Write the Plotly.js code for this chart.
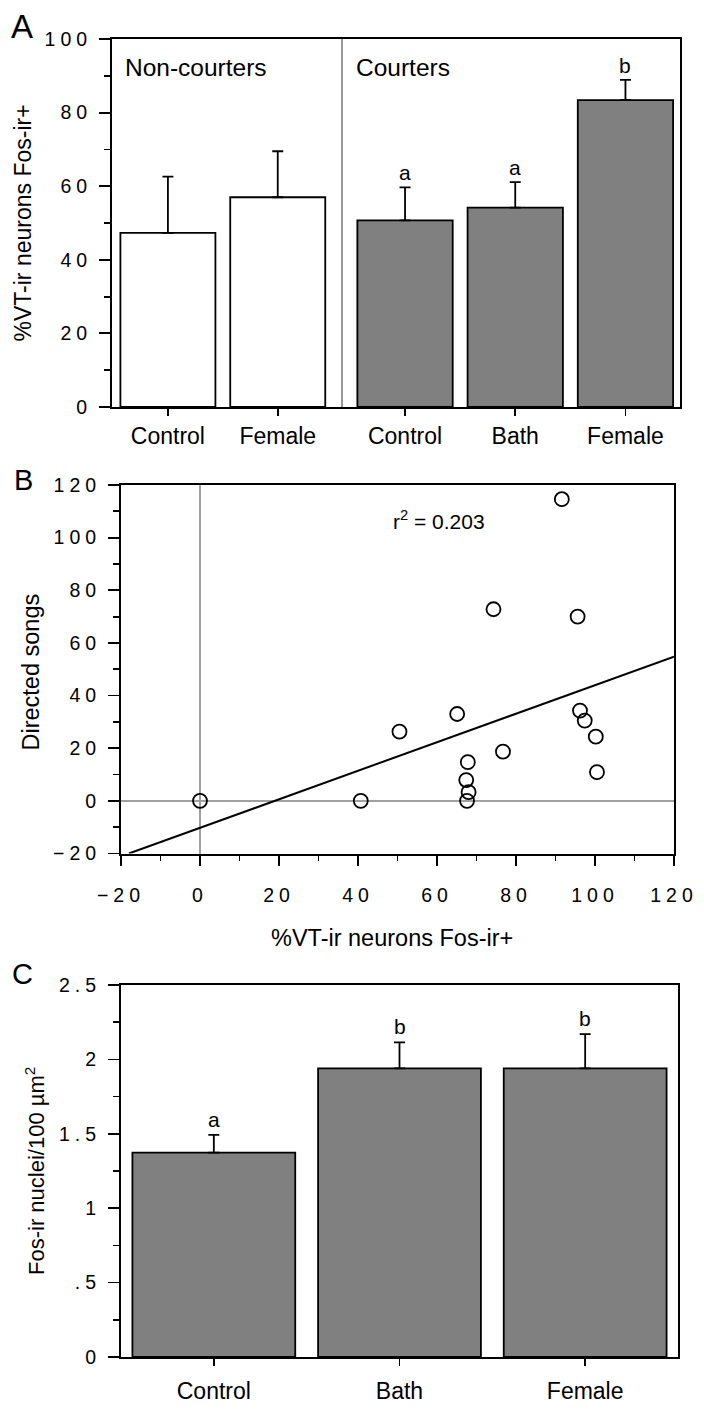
<!DOCTYPE html>
<html><head><meta charset="utf-8">
<script src="https://cdn.plot.ly/plotly-3.0.1.min.js"></script>
<style>
html,body{margin:0;padding:0;background:#fff;}
#chart{width:704px;height:1410px;}
.ytick text, .x3tick text, .y3tick text, .y4tick text {letter-spacing:5px;}
</style></head><body><div id="chart"></div>
<script>
// ---------- Panel A data ----------
const catsNonCourters = ['Control', 'Female'];
const valsNonCourters = [47.3, 57.0];
const errNonCourters  = [15.3, 12.5];
const catsCourters = ['Control', 'Bath', 'Female'];
const valsCourters = [50.7, 54.2, 83.4];
const errCourters  = [9.0, 6.9, 5.5];
const lettersCourters = ['a', 'a', 'b'];

// ---------- Panel B data ----------
const vtFosPct      = [0,  40.7, 50.5, 65.1, 67.6, 67.4, 68.0, 67.8, 74.3, 76.7, 91.6, 95.6, 96.2, 97.4, 100.2, 100.5];
const directedSongs = [0,  0,    26.3, 33.0, 0,    7.9,  3.3,  14.7, 72.8, 18.7, 114.6, 70.0, 34.3, 30.5, 24.4, 10.9];
const fitLineX = [-18, 120];
const fitLineY = [-20, 54.8];
const rSquaredText = '0.203';

// ---------- Panel C data ----------
const catsC = ['Control', 'Bath', 'Female'];
const valsC = [1.373, 1.94, 1.94];
const errC  = [0.12, 0.175, 0.23];
const lettersC = ['a', 'b', 'b'];
const yTickValsC = [0, 0.5, 1, 1.5, 2, 2.5];
const yTickTextC = ['0', '.5', '1', '1.5', '2', '2.5'];

// ---------- helpers ----------
const W = 704, H = 1410;
const px = v => v / W;
const py = v => 1 - v / H;
const FONT = 'Liberation Sans, Arial, Helvetica, sans-serif';
const zeros = n => new Array(n).fill(0);

const barStyle = (fill) => ({color: fill, line: {color: '#000', width: 1.8}});
const errStyle = (arr) => ({type: 'data', symmetric: false, array: arr, arrayminus: zeros(arr.length),
                            color: '#000', thickness: 1.8, width: 5.5});

const traces = [
  {type: 'bar', x: catsNonCourters, y: valsNonCourters, xaxis: 'x', yaxis: 'y', width: 0.865,
   marker: barStyle('#ffffff'), error_y: errStyle(errNonCourters)},
  {type: 'bar', x: catsCourters, y: valsCourters, xaxis: 'x2', yaxis: 'y2', width: 0.865,
   marker: barStyle('#808080'), error_y: errStyle(errCourters)},
  {type: 'scatter', mode: 'lines', x: fitLineX, y: fitLineY, xaxis: 'x3', yaxis: 'y3',
   line: {color: '#000', width: 2}},
  {type: 'scatter', mode: 'markers', x: vtFosPct, y: directedSongs, xaxis: 'x3', yaxis: 'y3',
   marker: {symbol: 'circle-open', size: 14, color: '#000', line: {width: 1.8, color: '#000'}}},
  {type: 'bar', x: catsC, y: valsC, xaxis: 'x4', yaxis: 'y4', width: 0.877,
   marker: barStyle('#808080'), error_y: errStyle(errC)}
];

const tickNum = {family: FONT, size: 19.5, color: '#000'};
const tickCat = {family: FONT, size: 23, color: '#000'};
const minorT = {ticklen: 6, tickcolor: '#000', tickwidth: 1.8, ticks: 'outside'};
const baseAx = {showgrid: false, zeroline: false, showline: true, linecolor: '#000', linewidth: 2,
                ticks: 'outside', tickcolor: '#000', tickwidth: 1.8, fixedrange: true};

const layout = {
  width: W, height: H, margin: {l: 0, r: 0, t: 0, b: 0},
  paper_bgcolor: '#fff', plot_bgcolor: '#fff', showlegend: false,
  font: {family: FONT, color: '#000'},
  // Panel A
  xaxis: Object.assign({}, baseAx, {domain: [px(112), px(342)], anchor: 'y', type: 'category',
          range: [-0.509, 1.585], mirror: true, ticklen: 7, tickfont: tickCat, ticklabelstandoff: 0}),
  yaxis: Object.assign({}, baseAx, {domain: [py(407), py(39)], anchor: 'x', range: [0, 100],
          dtick: 20, ticklen: 11, tickfont: tickNum, ticklabelstandoff: 3,
          minor: Object.assign({dtick: 10}, minorT)}),
  xaxis2: Object.assign({}, baseAx, {domain: [px(342), px(680)], anchor: 'y2', type: 'category',
          range: [-0.572, 2.495], mirror: true, ticklen: 7, tickfont: tickCat, ticklabelstandoff: 0}),
  yaxis2: Object.assign({}, baseAx, {domain: [py(407), py(39)], anchor: 'x2', range: [0, 100],
          side: 'right', ticks: '', showticklabels: false}),
  // Panel B
  xaxis3: Object.assign({}, baseAx, {domain: [px(121), px(674)], anchor: 'y3', range: [-20, 120],
          dtick: 20, mirror: true, ticklen: 10, tickfont: tickNum, ticklabelstandoff: 13,
          zeroline: true, zerolinecolor: '#a0a0a0', zerolinewidth: 1.5,
          minor: Object.assign({dtick: 10}, minorT, {ticklen: 5})}),
  yaxis3: Object.assign({}, baseAx, {domain: [py(853.5), py(485)], anchor: 'x3', range: [-20, 120],
          dtick: 20, mirror: true, ticklen: 11, tickfont: tickNum, ticklabelstandoff: 3,
          zeroline: true, zerolinecolor: '#a0a0a0', zerolinewidth: 1.5,
          minor: Object.assign({dtick: 10}, minorT)}),
  // Panel C
  xaxis4: Object.assign({}, baseAx, {domain: [px(121), px(678)], anchor: 'y4', type: 'category',
          range: [-0.5, 2.5], mirror: true, ticklen: 7, tickfont: tickCat, ticklabelstandoff: 5}),
  yaxis4: Object.assign({}, baseAx, {domain: [py(1357), py(985)], anchor: 'x4', range: [0, 2.5],
          tickmode: 'array', tickvals: yTickValsC, ticktext: yTickTextC, mirror: true,
          ticklen: 11, tickfont: tickNum, ticklabelstandoff: 3,
          minor: Object.assign({dtick: 0.25, tick0: 0}, minorT)}),
  shapes: [
    {type: 'line', xref: 'paper', yref: 'paper', x0: px(342), x1: px(342), y0: py(407), y1: py(39),
     line: {color: '#999', width: 2}}
  ],
  annotations: []
};

const ann = (text, x, y, size, extra) => Object.assign({text: text, x: x, y: y, xref: 'paper', yref: 'paper',
  showarrow: false, font: {family: FONT, size: size, color: '#000'}, xanchor: 'center', yanchor: 'middle'}, extra || {});

// panel letters
layout.annotations.push(ann('A', px(21.5), py(26), 33));
layout.annotations.push(ann('B', px(23), py(480), 29));
layout.annotations.push(ann('C', px(22.5), py(974), 29));
// group labels
layout.annotations.push(ann('Non-courters', px(123), py(67), 24.5, {xanchor: 'left'}));
layout.annotations.push(ann('Courters', px(354), py(67), 24.5, {xanchor: 'left'}));
// axis titles
layout.annotations.push(ann('%VT-ir neurons Fos-ir+', px(22.5), py(223), 23, {textangle: -90}));
layout.annotations.push(ann('Directed songs', px(30.5), py(672), 23.5, {textangle: -90}));
layout.annotations.push(ann('%VT-ir neurons Fos-ir+', px(392), py(938), 23.5));
layout.annotations.push(ann('Fos-ir nuclei/100 µm<sup>2</sup>', px(35), py(1171), 22, {textangle: -90}));
// r squared
layout.annotations.push(ann('r<sup>2</sup> = ' + rSquaredText, px(391), py(520), 21, {xanchor: 'left'}));

// significance letters
catsCourters.forEach((c, i) => layout.annotations.push({text: lettersCourters[i], x: c, y: valsCourters[i] + errCourters[i],
  xref: 'x2', yref: 'y2', showarrow: false, yanchor: 'bottom', yshift: 1, font: {family: FONT, size: 21, color: '#000'}}));
catsC.forEach((c, i) => layout.annotations.push({text: lettersC[i], x: c, y: valsC[i] + errC[i],
  xref: 'x4', yref: 'y4', showarrow: false, yanchor: 'bottom', yshift: 2, font: {family: FONT, size: 21, color: '#000'}}));

Plotly.newPlot('chart', traces, layout, {staticPlot: true, displayModeBar: false});
</script></body></html>
